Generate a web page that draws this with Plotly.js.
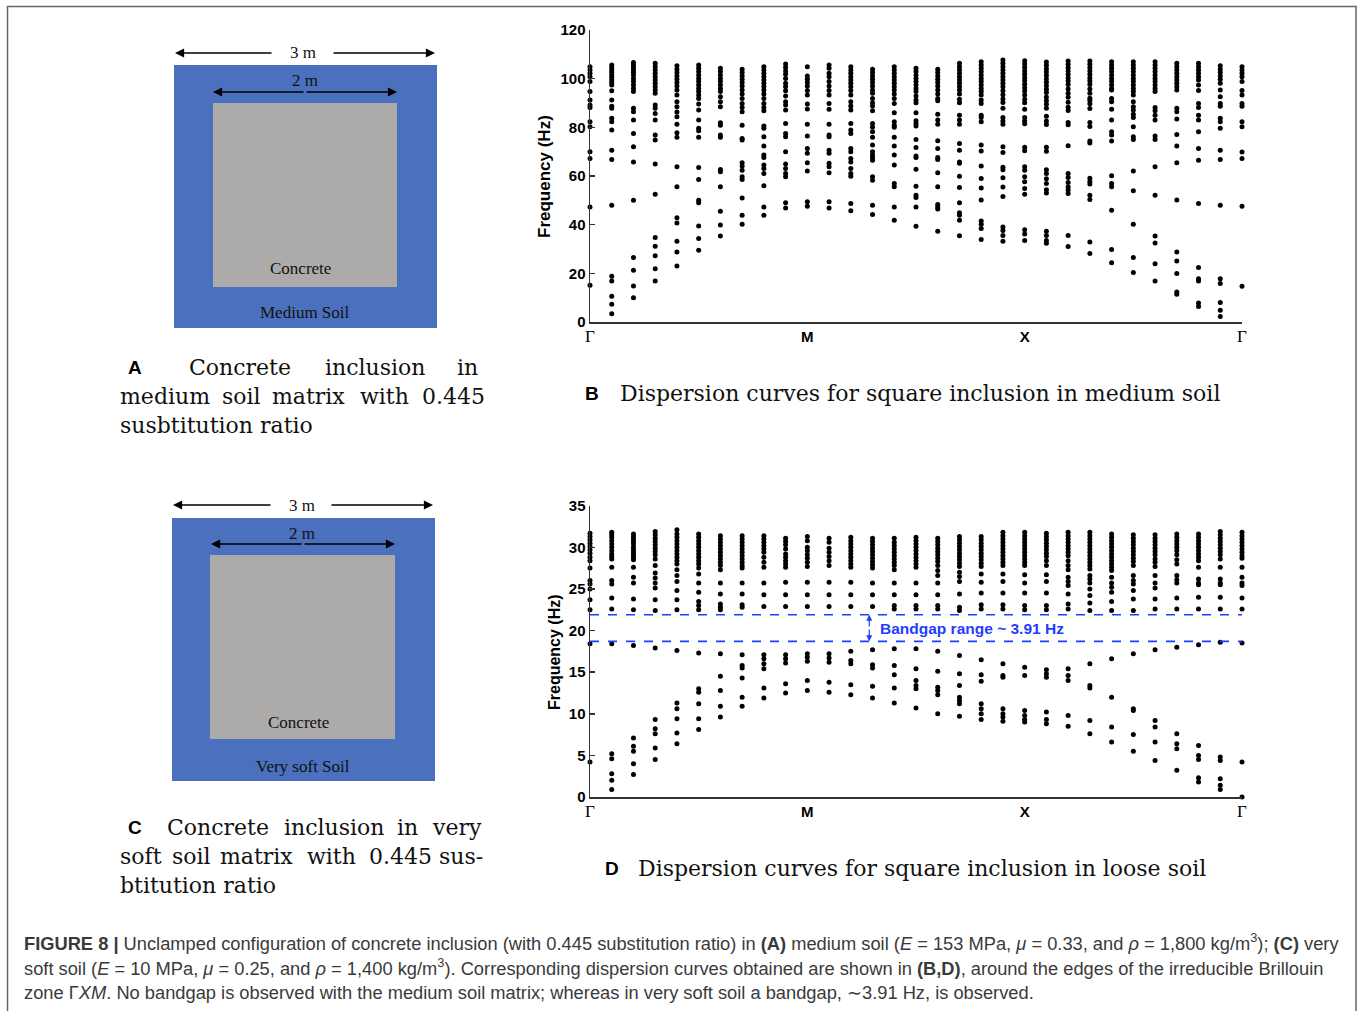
<!DOCTYPE html>
<html><head><meta charset="utf-8">
<script src="https://cdn.plot.ly/plotly-3.0.1.min.js"></script>
<style>body{margin:0;background:#fff}#fig{width:1362px;height:1011px}</style>
</head><body><div id="fig"></div><script>
// k-path tick labels (Γ – M – X – Γ), column index positions
const kTicks = [0, 10, 20, 30];
const kLabels = ['Γ', 'M', 'X', 'Γ'];

// (B) medium soil: eigenfrequencies (Hz) per k-point column
const b00 = [104.9,103.6,102.2,100.8,98.8,94.7,91.2,89.2,88.2,82.3,80.2,70.0,67.2,47.3,15.1];
const b01 = [105.6,104.6,103.6,102.6,101.5,100.5,99.5,98.4,97.4,95.0,91.2,88.7,87.8,83.7,82.3,78.9,70.6,66.8,48.0,18.8,16.9,10.6,7.3,3.4];
const b02 = [106.6,105.6,104.6,103.6,102.5,101.5,100.1,98.8,97.4,96.0,94.7,87.8,86.4,83.0,77.5,72.0,65.8,50.0,26.5,21.3,14.8,10.0];
const b03 = [106.3,104.9,103.6,102.2,100.8,99.5,98.1,96.7,95.3,94.0,89.2,87.8,85.7,83.0,76.8,74.8,64.9,52.5,34.7,31.1,27.2,21.9,16.9];
const b04 = [105.3,103.9,102.5,101.1,99.8,98.4,97.0,95.3,93.3,90.5,88.5,86.3,84.4,81.3,77.8,75.9,63.8,55.6,42.8,40.7,33.2,28.8,23.0];
const b05 = [105.6,104.3,102.9,101.5,100.1,98.8,97.4,96.0,94.7,93.3,91.9,89.6,87.1,83.0,79.6,78.6,75.9,63.5,58.6,50.0,49.0,39.5,34.3,29.5];
const b06 = [104.3,102.9,101.5,100.1,98.8,97.4,96.0,94.7,92.6,90.5,88.5,81.9,80.9,76.8,75.9,62.7,61.7,55.6,45.5,39.9,35.3];
const b07 = [103.9,102.5,101.1,99.8,98.4,97.0,95.3,93.7,91.9,89.8,88.2,86.4,80.9,75.4,74.8,65.4,64.1,62.4,59.7,58.6,51.0,43.9,40.2];
const b08 = [104.9,103.6,102.2,100.8,99.5,98.1,96.7,95.3,93.7,91.9,89.8,88.2,86.8,80.5,79.6,76.1,72.3,68.6,67.6,64.5,63.1,61.0,56.0,47.3,43.9];
const b09 = [106.0,104.6,103.2,101.8,100.1,98.1,96.7,95.0,92.9,90.5,89.2,87.1,81.6,77.5,76.1,70.0,64.9,63.1,61.0,59.7,49.0,46.9];
const b10 = [104.9,101.1,99.8,98.4,97.0,95.1,93.3,89.6,87.5,81.3,76.4,71.3,69.3,65.4,62.1,49.4,47.6];
const b11 = [105.6,104.3,102.2,100.8,98.8,97.0,95.1,93.3,89.8,87.4,81.3,76.8,76.1,70.6,69.3,65.2,63.8,61.3,49.4,46.9];
const b12 = [104.9,103.6,102.2,100.8,99.5,98.1,96.7,95.1,93.3,90.5,88.8,87.1,81.6,78.9,77.5,71.3,70.0,67.2,65.8,63.1,61.0,59.9,48.7,45.7];
const b13 = [103.9,102.5,101.1,99.8,98.4,97.0,95.3,94.0,91.9,90.1,88.8,86.8,81.6,80.0,78.2,75.9,72.7,70.0,68.6,67.6,66.5,59.7,58.3,48.0,44.2];
const b14 = [104.9,103.6,102.2,100.8,99.5,98.1,96.7,95.3,93.7,91.9,89.8,86.0,82.3,80.9,80.0,75.9,72.3,68.6,64.5,56.9,55.6,47.3,41.8];
const b15 = [104.3,102.9,101.5,100.1,98.8,97.4,96.0,94.7,92.9,91.2,90.1,86.0,82.7,81.6,80.5,75.0,71.7,68.2,67.6,62.8,55.8,52.1,51.2,47.3,39.4];
const b16 = [103.9,102.5,101.1,99.8,98.4,97.0,95.3,93.7,91.9,90.9,85.4,83.0,81.3,74.5,71.3,67.6,66.8,61.3,55.6,48.3,47.3,46.4,37.3];
const b17 = [106.3,104.9,103.6,102.2,100.8,99.5,98.1,96.7,95.3,93.7,91.5,90.1,85.0,83.0,81.3,73.4,70.6,65.8,65.2,59.9,55.3,49.0,44.9,43.9,41.8,35.4];
const b18 = [107.0,105.6,104.3,102.9,101.5,100.1,98.8,97.4,96.0,94.7,93.3,91.2,89.8,85.0,84.0,82.3,72.7,70.3,64.1,59.0,55.1,50.1,41.5,40.2,38.4,33.9];
const b19 = [107.7,106.3,104.9,103.6,102.2,100.8,99.5,98.1,96.7,95.0,93.4,91.6,90.2,87.8,84.0,82.6,81.3,72.0,69.7,63.6,62.6,59.3,55.5,51.6,39.0,37.6,35.5,33.2];
const b20 = [107.4,106.0,104.6,103.2,101.8,100.4,99.1,97.7,96.3,94.9,93.3,91.5,90.1,87.4,84.0,82.6,81.5,71.8,70.4,63.8,62.4,59.7,57.6,54.9,52.5,37.9,36.2,33.5];
const b21 = [106.9,105.5,104.1,102.7,101.3,99.9,98.5,97.1,95.7,94.3,92.5,90.9,89.5,87.8,84.6,82.6,81.2,71.8,70.2,62.6,61.0,58.9,56.9,54.4,53.0,37.3,35.5,33.5,32.4];
const b22 = [107.3,105.9,104.5,103.1,101.7,100.3,99.0,97.6,95.8,94.0,92.4,90.3,88.3,86.9,82.0,81.1,72.4,61.0,59.4,57.3,55.5,54.2,52.8,35.5,31.0];
const b23 = [107.3,105.9,104.5,103.1,101.7,100.3,99.0,97.6,95.8,94.0,92.0,91.0,89.7,87.7,82.0,80.3,74.4,73.6,59.1,57.7,56.7,52.1,50.3,32.9,28.1];
const b24 = [107.0,105.6,104.3,102.9,101.5,100.1,98.8,97.4,96.0,95.3,91.9,90.5,87.4,83.0,78.2,76.8,74.4,60.1,56.9,55.6,45.9,29.8,24.3];
const b25 = [107.0,105.6,104.3,102.9,101.5,100.1,98.8,97.4,96.0,94.7,93.3,90.5,88.5,87.1,85.4,84.0,80.2,76.1,75.0,62.1,53.9,40.2,26.5,20.3];
const b26 = [107.0,105.6,104.3,102.9,101.5,100.1,98.8,97.4,96.0,94.7,88.2,86.8,85.0,83.0,76.4,75.0,63.8,52.1,35.3,32.5,23.9,16.8];
const b27 = [106.3,104.9,103.6,102.2,100.8,99.5,98.1,96.7,95.3,87.8,86.4,83.4,77.1,72.3,65.4,50.1,28.8,25.1,19.9,12.3,11.4];
const b28 = [106.3,104.9,103.6,102.2,100.8,99.5,97.4,95.1,89.8,88.2,85.0,83.0,78.2,71.3,66.5,48.7,22.4,17.8,16.9,7.8,6.4];
const b29 = [105.3,103.9,102.5,101.1,99.8,98.1,95.3,92.6,89.8,88.7,83.7,82.3,79.6,70.6,66.8,48.0,17.8,15.8,8.0,4.8,2.3];
const b30 = [104.9,103.6,102.2,100.8,98.8,95.1,93.3,89.8,88.7,82.3,80.2,69.9,67.2,47.6,14.7];

// (D) loose (very soft) soil: eigenfrequencies (Hz) per k-point column
const d00 = [31.7,31.3,30.9,30.5,30.1,29.7,29.3,28.8,28.4,27.5,26.0,25.6,25.0,23.7,22.5,18.4,4.2];
const d01 = [31.8,31.5,31.2,30.8,30.4,30.0,29.6,29.2,28.9,28.6,27.6,26.0,25.6,23.9,22.6,18.4,5.2,4.6,2.8,2.0,0.9];
const d02 = [31.6,31.3,31.0,30.7,30.4,30.0,29.7,29.4,29.1,28.8,28.5,27.6,26.4,25.7,23.8,22.5,18.2,7.1,6.1,5.5,4.0,2.7];
const d03 = [31.9,31.5,31.1,30.7,30.3,29.9,29.5,29.1,28.6,27.8,26.9,26.3,25.7,25.1,23.7,22.4,17.9,9.3,8.2,7.6,5.9,4.5];
const d04 = [32.1,31.6,31.2,30.8,30.4,30.0,29.6,29.2,28.8,28.4,28.0,27.3,26.6,25.9,24.8,23.7,22.5,17.6,11.3,10.6,9.4,7.7,6.4];
const d05 = [31.6,31.2,30.8,30.4,30.0,29.6,29.2,28.8,28.4,28.0,27.5,26.8,25.7,24.6,23.5,23.0,22.5,17.3,13.0,12.6,11.2,9.4,8.1];
const d06 = [31.4,31.0,30.6,30.2,29.8,29.4,29.0,28.6,28.2,27.8,27.3,25.7,24.4,23.2,22.8,22.5,17.2,14.5,12.8,10.9,9.6];
const d07 = [31.4,31.0,30.6,30.2,29.8,29.4,29.0,28.6,28.2,27.8,27.5,25.7,24.4,23.1,22.8,17.1,15.8,15.5,14.3,12.0,10.9];
const d08 = [31.4,31.0,30.6,30.2,29.8,29.4,28.8,28.2,27.6,25.7,24.3,22.9,17.1,16.6,16.0,15.4,13.1,11.9];
const d09 = [31.1,30.7,30.3,29.8,29.2,28.8,28.4,28.0,27.6,25.8,24.3,22.9,17.1,16.6,16.1,13.6,12.5];
const d10 = [31.3,30.8,30.0,29.6,29.1,28.7,28.2,27.7,25.8,24.3,22.9,17.2,16.8,16.3,14.0,12.8];
const d11 = [31.1,30.6,29.9,29.4,28.9,28.4,27.8,25.8,24.3,22.9,17.2,16.7,16.2,13.8,12.6];
const d12 = [31.2,30.8,30.4,30.0,29.6,29.2,28.8,28.4,28.0,27.6,25.8,24.3,22.9,17.5,16.4,16.0,13.5,12.3];
const d13 = [31.1,30.7,30.3,29.9,29.5,29.1,28.7,28.3,27.9,27.5,25.7,24.3,22.9,17.7,15.9,15.5,13.3,11.9];
const d14 = [31.1,30.6,30.2,29.8,29.4,29.0,28.6,28.2,27.8,27.3,25.7,24.3,23.0,22.6,17.8,15.8,14.7,13.1,11.3];
const d15 = [31.2,30.8,30.4,30.0,29.6,29.2,28.8,28.4,28.0,27.6,25.7,24.3,23.0,22.6,17.8,15.4,14.0,13.4,13.0,10.7];
const d16 = [31.1,30.7,30.3,29.9,29.5,29.1,28.7,28.3,27.8,27.2,26.6,25.7,24.3,23.0,22.6,17.5,15.1,13.2,12.8,12.3,10.0];
const d17 = [31.3,30.9,30.5,30.1,29.7,29.3,28.9,28.5,28.1,27.7,27.0,26.5,25.9,24.4,22.8,22.4,17.0,14.8,13.4,12.0,11.6,11.2,9.7];
const d18 = [31.3,30.9,30.5,30.1,29.7,29.3,28.9,28.5,28.1,27.7,26.8,25.8,24.5,23.1,22.6,16.5,14.7,13.9,11.2,10.6,10.0,9.3];
const d19 = [31.8,31.4,31.0,30.6,30.2,29.8,29.4,29.0,28.6,28.2,27.8,26.8,25.9,24.5,23.1,22.6,16.0,14.6,14.4,10.6,10.0,9.6,9.1];
const d20 = [31.8,31.4,31.0,30.6,30.2,29.8,29.4,29.0,28.6,28.2,27.8,26.7,25.7,24.5,23.0,22.5,15.6,14.6,10.4,9.8,9.3,9.0];
const d21 = [31.7,31.3,30.9,30.5,30.1,29.7,29.3,28.9,28.4,27.8,26.7,25.9,24.5,23.0,22.5,15.3,14.8,14.4,10.2,9.3,8.8];
const d22 = [31.8,31.4,31.0,30.6,30.2,29.8,29.4,29.0,28.4,27.8,27.3,26.4,25.9,25.4,24.4,23.2,22.6,15.4,14.6,14.0,9.8,8.5];
const d23 = [31.8,31.4,31.0,30.6,30.2,29.8,29.4,29.0,28.6,28.2,27.8,27.4,26.6,26.2,25.7,25.0,24.2,23.3,22.4,16.0,13.4,13.1,9.2,7.6];
const d24 = [31.6,31.2,30.8,30.4,30.0,29.6,29.2,28.8,28.4,28.0,27.6,27.2,26.4,25.7,25.2,24.6,23.5,22.4,16.6,12.0,8.4,6.6];
const d25 = [31.5,31.1,30.7,30.3,29.9,29.5,29.1,28.7,28.3,27.8,26.6,26.0,25.6,24.8,23.8,22.4,17.2,10.6,10.4,7.5,5.5];
const d26 = [31.5,31.1,30.7,30.3,29.9,29.5,29.1,28.6,28.2,27.7,26.6,25.7,25.1,23.8,22.6,17.7,9.2,8.4,6.6,4.4];
const d27 = [31.6,31.2,30.8,30.4,30.0,29.6,29.1,28.5,28.0,26.6,26.1,25.7,23.9,22.6,18.0,7.6,6.4,5.8,3.2];
const d28 = [31.6,31.2,30.8,30.4,30.0,29.6,29.2,28.8,28.4,27.6,26.2,25.7,25.5,24.0,22.6,18.3,6.2,5.0,4.5,2.3,1.8];
const d29 = [31.9,31.5,31.1,30.7,30.3,29.9,29.5,29.1,28.6,27.6,26.2,25.7,25.5,24.0,22.6,18.6,4.8,4.4,2.2,1.4,0.9];
const d30 = [31.8,31.4,31.0,30.6,30.2,29.8,29.4,29.0,28.7,27.6,26.4,25.7,25.4,23.9,22.6,18.5,4.2,0];

// bandgap edges in (D), Hz
const gapLower = 18.7;
const gapUpper = 21.9;
const gapLabel = 'Bandgap range ~ 3.91 Hz';

const mediumCols = [b00,b01,b02,b03,b04,b05,b06,b07,b08,b09,b10,b11,b12,b13,b14,b15,b16,b17,b18,b19,b20,b21,b22,b23,b24,b25,b26,b27,b28,b29,b30];
const looseCols = [d00,d01,d02,d03,d04,d05,d06,d07,d08,d09,d10,d11,d12,d13,d14,d15,d16,d17,d18,d19,d20,d21,d22,d23,d24,d25,d26,d27,d28,d29,d30];

function flatten(cols) {
  const x = [], y = [];
  cols.forEach((c, i) => c.forEach(v => { x.push(i); y.push(v); }));
  return {x, y};
}
const fb = flatten(mediumCols), fd = flatten(looseCols);

const W = 1362, H = 1011;
const P = px => px / W;
const Q = py => 1 - py / H;

const SANS = 'Liberation Sans, Arial, sans-serif';
const SERIF = 'Liberation Serif, Times New Roman, serif';
const CMR = 'DejaVu Serif, serif';

const mk = {color: 'black', size: 5};
const traces = [
  {type: 'scatter', mode: 'markers', x: fb.x, y: fb.y, xaxis: 'x', yaxis: 'y', marker: mk, cliponaxis: false, hoverinfo: 'y'},
  {type: 'scatter', mode: 'markers', x: fd.x, y: fd.y, xaxis: 'x2', yaxis: 'y2', marker: mk, cliponaxis: false, hoverinfo: 'y'}
];

const tickText = kLabels.map(t => t === 'Γ' ? '<span style="font-family:Liberation Serif;font-weight:normal;font-size:17px">Γ</span>' : '<b>' + t + '</b>');
const xCommon = {
  range: [0, 30], tickvals: kTicks, ticktext: tickText, showgrid: false, zeroline: false,
  showline: true, linecolor: '#333', linewidth: 1.5, ticks: '', fixedrange: true,
  tickfont: {family: SANS, size: 15, color: 'black'}, domain: [P(590), P(1242)]
};
const yCommon = {
  showgrid: false, zeroline: false, showline: true, linecolor: '#333', linewidth: 1.5,
  ticks: 'inside', ticklen: 5, tickwidth: 1.5, tickcolor: '#333',
  tickfont: {family: SANS, size: 15, color: 'black', weight: 'bold'}
};

const shapes = [];
const ann = [];
function rect(x0, y0, x1, y1, fill) {
  shapes.push({type: 'rect', xref: 'paper', yref: 'paper', x0: P(x0), x1: P(x1), y0: Q(y1), y1: Q(y0), fillcolor: fill, line: {width: 0}, layer: 'below'});
}
function arrow(tipX, tipY, tailX) {
  ann.push({xref: 'paper', yref: 'paper', x: P(tipX), y: Q(tipY), ax: tailX - tipX, ay: 0, text: '', showarrow: true,
    arrowhead: 2, arrowsize: 1.3, arrowwidth: 1.4, arrowcolor: 'black', standoff: 0, startstandoff: 0});
}
function txt(s, x, y, font, xanchor, extra) {
  ann.push(Object.assign({xref: 'paper', yref: 'paper', x: P(x), y: Q(y), text: s, showarrow: false,
    xanchor: xanchor || 'center', yanchor: 'middle', font: font}, extra || {}));
}

// Figure border
shapes.push({type: 'rect', xref: 'paper', yref: 'paper', x0: P(7.5), x1: P(1356), y0: Q(1030), y1: Q(6.5), line: {color: '#666', width: 1.5}, fillcolor: 'rgba(0,0,0,0)'});

const blue = '#4A70BE', grey = '#ADAAAA';
const tFont = {family: SERIF, size: 17, color: '#111'};
// Panel A
rect(174, 65, 437, 328, blue);
rect(213, 103, 397, 287, grey);
arrow(175, 53, 273); arrow(435, 53, 332);
txt('3 m', 303, 53, tFont);
arrow(213, 92, 305); arrow(397, 92, 305);
txt('2 m', 305, 80, tFont);
txt('Concrete', 300, 268, tFont);
txt('Medium Soil', 305, 312, tFont);
// Panel C
rect(172, 518, 435, 781, blue);
rect(210, 555, 395, 739, grey);
arrow(173, 505, 272); arrow(433, 505, 330);
txt('3 m', 302, 505, tFont);
arrow(211, 544, 303); arrow(395, 544, 303);
txt('2 m', 302, 533, tFont);
txt('Concrete', 298, 722, tFont);
txt('Very soft Soil', 303, 766, tFont);

// Sub-captions (justified words)
const capFont = {family: CMR, size: 22, color: '#111'};
const labFont = {family: SANS, size: 19, color: 'black', weight: 'bold'};
txt('A', 126, 367, labFont, 'left');
[['Concrete',187],['inclusion',323],['in',455]].forEach(w => txt(w[0], w[1], 367, capFont, 'left'));
[['medium',118],['soil',220],['matrix',270],['with',358],['0.445',420]].forEach(w => txt(w[0], w[1], 396, capFont, 'left'));
txt('susbtitution ratio', 118, 425, capFont, 'left');
txt('C', 126, 827, labFont, 'left');
[['Concrete',165],['inclusion',282],['in',395],['very',430]].forEach(w => txt(w[0], w[1], 827, capFont, 'left'));
[['soft',118],['soil',170],['matrix',218],['with',305],['0.445',367],['sus-',437]].forEach(w => txt(w[0], w[1], 856, capFont, 'left'));
txt('btitution ratio', 118, 885, capFont, 'left');
txt('B', 583, 393, labFont, 'left');
txt('Dispersion curves for square inclusion in medium soil', 618, 393, capFont, 'left');
txt('D', 603, 868, labFont, 'left');
txt('Dispersion curves for square inclusion in loose soil', 636, 868, capFont, 'left');

// Y axis titles
txt('Frequency (Hz)', 545, 177, {family: SANS, size: 17, color: 'black', weight: 'bold'}, 'center', {textangle: -90});
txt('Frequency (Hz)', 554, 652, {family: SANS, size: 16, color: 'black', weight: 'bold'}, 'center', {textangle: -90});

// Bandgap
const gapBlue = '#1f3cff';
[gapLower, gapUpper].forEach(v => shapes.push({type: 'line', xref: 'x2', yref: 'y2', x0: 0, x1: 30, y0: v, y1: v, line: {color: gapBlue, width: 1.6, dash: 'dash'}}));
const gapMid = (gapLower + gapUpper) / 2;
ann.push({xref: 'x2', yref: 'y2', axref: 'x2', ayref: 'y2', x: 12.85, y: gapUpper, ax: 12.85, ay: gapMid, text: '', showarrow: true, arrowhead: 2, arrowsize: 1, arrowwidth: 1.2, arrowcolor: gapBlue, standoff: 0});
ann.push({xref: 'x2', yref: 'y2', axref: 'x2', ayref: 'y2', x: 12.85, y: gapLower, ax: 12.85, ay: gapMid, text: '', showarrow: true, arrowhead: 2, arrowsize: 1, arrowwidth: 1.2, arrowcolor: gapBlue, standoff: 0});
ann.push({xref: 'x2', yref: 'y2', x: 13.25, y: gapMid, text: gapLabel, showarrow: false, xanchor: 'left', yanchor: 'middle', font: {family: SANS, size: 15.5, color: gapBlue, weight: 'bold'}});

// Figure caption
const fcFont = {family: SANS, size: 18.3, color: '#3a3a3a'};
txt('<b>FIGURE 8 |</b> Unclamped configuration of concrete inclusion (with 0.445 substitution ratio) in <b>(A)</b> medium soil (<i>E</i> = 153 MPa, <i>μ</i> = 0.33, and <i>ρ</i> = 1,800 kg/m<sup>3</sup>); <b>(C)</b> very', 22, 942, fcFont, 'left');
txt('soft soil (<i>E</i> = 10 MPa, <i>μ</i> = 0.25, and <i>ρ</i> = 1,400 kg/m<sup>3</sup>). Corresponding dispersion curves obtained are shown in <b>(B,D)</b>, around the edges of the irreducible Brillouin', 22, 967, fcFont, 'left');
txt('zone Γ<i>XM</i>. No bandgap is observed with the medium soil matrix; whereas in very soft soil a bandgap, ∼3.91 Hz, is observed.', 22, 992, fcFont, 'left');

const layout = {
  width: W, height: H, margin: {l: 0, r: 0, t: 0, b: 0},
  paper_bgcolor: 'white', plot_bgcolor: 'rgba(0,0,0,0)', showlegend: false,
  xaxis: Object.assign({}, xCommon, {anchor: 'y'}),
  yaxis: Object.assign({}, yCommon, {range: [0, 120], tickvals: [0,20,40,60,80,100,120], domain: [Q(322), Q(30)], anchor: 'x'}),
  xaxis2: Object.assign({}, xCommon, {anchor: 'y2'}),
  yaxis2: Object.assign({}, yCommon, {range: [0, 35], tickvals: [0,5,10,15,20,25,30,35], domain: [Q(797), Q(505.7)], anchor: 'x2'}),
  shapes: shapes, annotations: ann
};
Plotly.newPlot('fig', traces, layout, {displayModeBar: false, staticPlot: true});
</script></body></html>
